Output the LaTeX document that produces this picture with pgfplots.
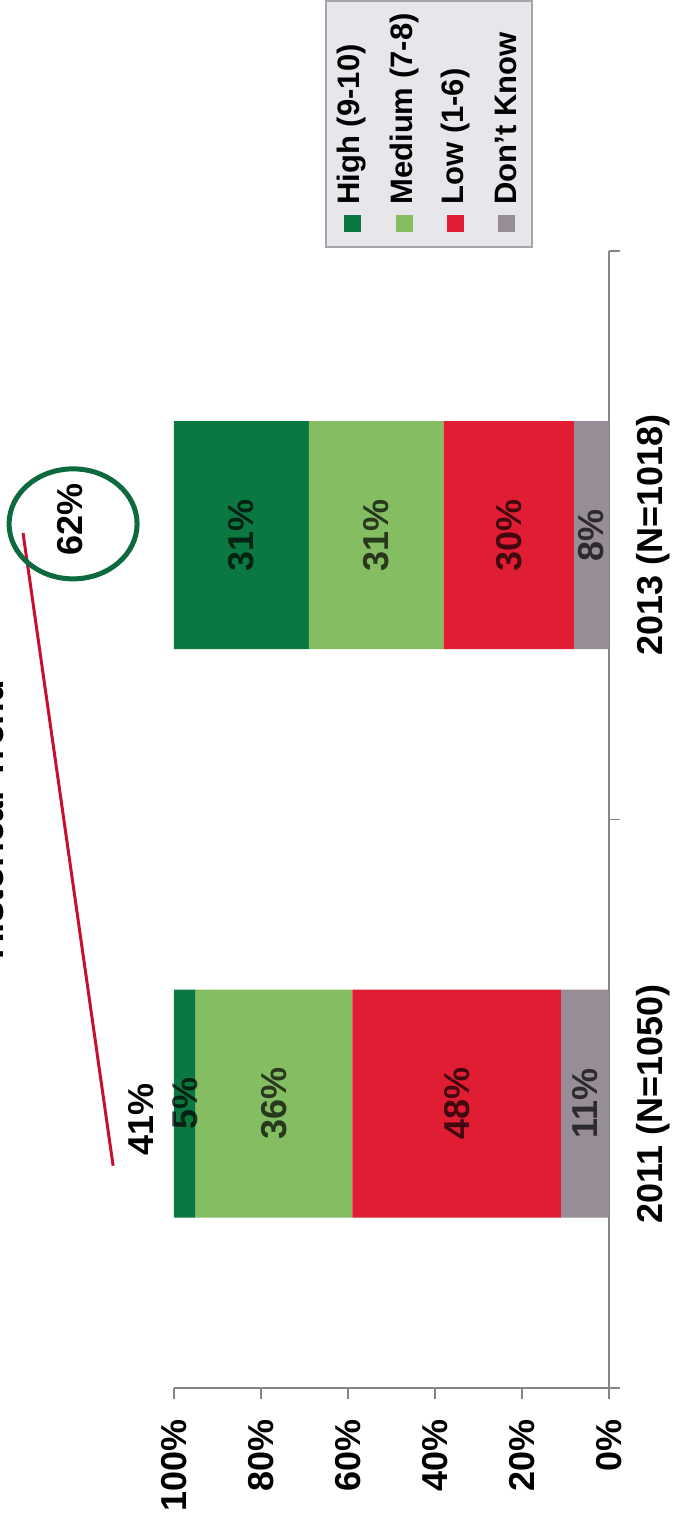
\documentclass[border=0pt]{standalone}
\usepackage{fontspec}
\setmainfont{Liberation Sans}
\usepackage{pgfplots}
\pgfplotsset{compat=1.18}
\usepackage{pgfplotstable}

\definecolor{highgreen}{HTML}{0A7840}
\definecolor{medgreen}{HTML}{84BD62}
\definecolor{lowred}{HTML}{E11D33}
\definecolor{dkgrey}{HTML}{978D97}
\definecolor{axisgrey}{HTML}{858585}
\definecolor{circlegreen}{HTML}{0C6A3E}
\definecolor{linered}{HTML}{C8102E}
\definecolor{legendfill}{HTML}{E7E7EB}
\definecolor{legendedge}{HTML}{A5A5A8}

% rating shares per survey wave (row 0 = 2011, row 1 = 2013)
\pgfplotstableread{
cat high med low dk
0   5    36  48  11
1   31   31  30  8
}\trend

\newcommand{\bigbold}{\bfseries\fontsize{18}{21}\selectfont}
\newcommand{\legfont}{\bfseries\fontsize{15.5}{18}\selectfont}

\begin{document}
\begin{tikzpicture}
\useasboundingbox (0,0) rectangle (337.5pt,762pt);
% chart title, set along the left edge
\node[rotate=90, anchor=base, font=\bfseries\fontsize{18.5}{21}\selectfont]
  at (2pt,352pt) {Historical Trend};
% legend, read bottom to top like the rest of the chart
\draw[fill=legendfill, draw=legendedge, line width=0.8pt]
  (163pt,638.5pt) rectangle (266pt,761.5pt);
\foreach \xc/\col/\txt in {176/highgreen/High (9-10), 202/medgreen/Medium (7-8),
    227.5/lowred/Low (1-6), 253/dkgrey/Don't Know} {
  \fill[\col] (\xc pt-4.25pt,646pt) rectangle (\xc pt+4.25pt,654.5pt);
  \node[rotate=90, anchor=west, inner sep=0pt, font=\legfont]
    at (\xc pt,659.5pt) {\txt};
}
\begin{axis}[
  at={(87pt,68pt)}, anchor=south west,
  width=217.5pt, height=568.5pt, scale only axis,
  xbar stacked, bar width=114pt,
  x dir=reverse,
  xmin=0, xmax=100, ymin=-0.5, ymax=1.5,
  clip=false,
  axis x line*=bottom, axis y line*=right,
  axis line style={axisgrey, line width=1pt},
  tick align=outside, major tick length=5.5pt,
  tick style={axisgrey, line width=0.8pt},
  /pgf/number format/assume math mode=true,
  xtick={0,20,...,100},
  xticklabel={\pgfmathprintnumber{\tick}\%},
  xticklabel style={rotate=90, anchor=east, font=\bigbold},
  xticklabel shift=6.5pt,
  ytick={-0.5,0.5,1.5}, yticklabels={,,},
  extra y ticks={0,1},
  extra y tick labels={{2011 (N=1050)},{2013 (N=1018)}},
  extra y tick style={major tick length=0pt},
  yticklabel style={rotate=90, anchor=north, font=\bigbold},
  yticklabel shift=10pt,
  point meta=explicit,
  nodes near coords={\pgfmathprintnumber{\pgfplotspointmeta}\%},
  every node near coord/.append style={rotate=90, anchor=center,
    font=\bigbold, text=black, text opacity=0.7},
]
\addplot[fill=dkgrey, draw=none] table[x=dk, y=cat, meta=dk] \trend;
\addplot[fill=lowred, draw=none] table[x=low, y=cat, meta=low] \trend;
\addplot[fill=medgreen, draw=none] table[x=med, y=cat, meta=med] \trend;
\addplot[fill=highgreen, draw=none] table[x=high, y=cat, meta=high] \trend;

% combined high + medium share, with the rise marked
\node[rotate=90, font=\bigbold] at (axis cs:107.6,-0.027) {41\%};
\draw[circlegreen, line width=2.5pt] (axis cs:123.2,1.02)
  ellipse [x radius=32pt, y radius=27.5pt];
\draw[linered, line width=1.5pt] (axis cs:114,-0.109) -- (axis cs:134.7,1.004);
\node[rotate=90, font=\bigbold] at (axis cs:123.9,1.027) {62\%};
\end{axis}
\end{tikzpicture}
\end{document}
